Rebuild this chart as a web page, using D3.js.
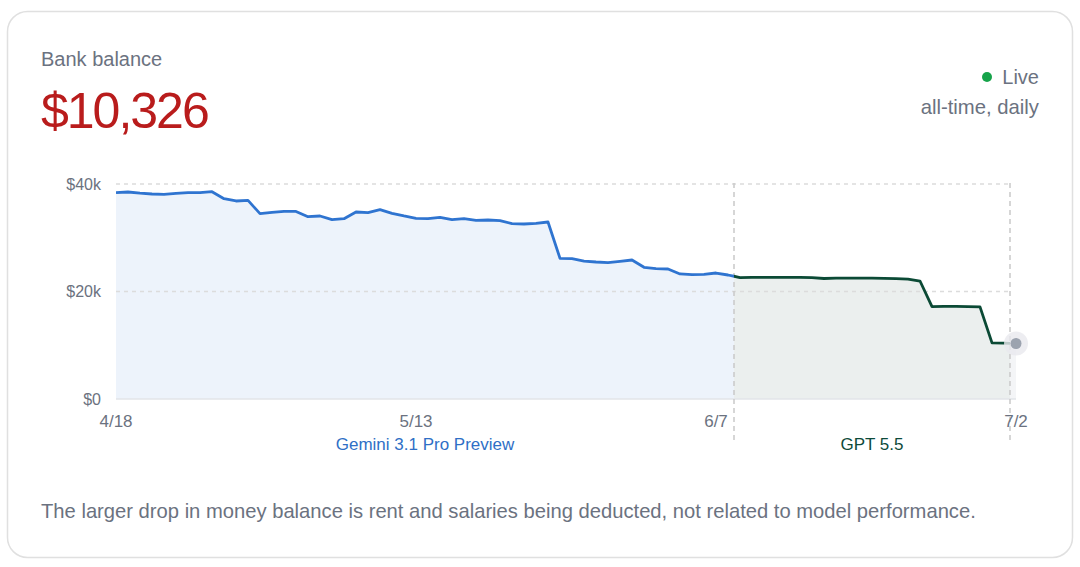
<!DOCTYPE html>
<html>
<head>
<meta charset="utf-8">
<script src="https://cdn.jsdelivr.net/npm/d3@7"></script>
<style>
  html, body { margin: 0; padding: 0; background: #fff; }
  svg { display: block; font-family: "Liberation Sans", Arial, Helvetica, sans-serif; }
</style>
</head>
<body>
<svg id="chart" width="1080" height="567"></svg>
<script>
// ---- data ----
const balance = [
  38380, 38510, 38300, 38140, 38080, 38250, 38380, 38400, 38570, 37270,
  36840, 36960, 34480, 34730, 34920, 34900, 33920, 34050, 33360, 33550,
  34790, 34670, 35230, 34550, 34050, 33610, 33550, 33800, 33360, 33550,
  33240, 33300, 33180, 32620, 32560, 32680, 32930, 26170, 26110, 25670,
  25490, 25360, 25610, 25860, 24500, 24250, 24190, 23260, 23130, 23190,
  23440, 23070, 22600, 22620, 22630, 22620, 22640, 22630, 22600, 22420,
  22500, 22490, 22480, 22470, 22450, 22380, 22320, 21950, 17200, 17220,
  17230, 17200, 17150, 10450, 10380, 10326
];
const tickLabels = ["4/18", "5/13", "6/7", "7/2"];
const tickDays = [0, 25, 50, 75];
const yTicks = [0, 20000, 40000];
const yTickLabels = ["$0", "$20k", "$40k"];
const models = ["Gemini 3.1 Pro Preview", "GPT 5.5"];
const modelStart = [0, 51.5];
const modelEnd = [51.5, 74.5];
const modelLine = ["#2f74d0", "#0b4a35"];
const modelFill = ["#edf3fb", "#ebefee"];
const modelText = ["#2f6fc6", "#0d4a3a"];
const currentBalance = "$10,326";

// ---- layout ----
const svg = d3.select("#chart");
const x = d3.scaleLinear().domain([0, balance.length - 1]).range([116, 1016]);
const y = d3.scaleLinear().domain([0, 40000]).range([399, 184]);
const gray = "#6b7280";

svg.append("rect").attr("x", 7.5).attr("y", 11.5).attr("width", 1065).attr("height", 546)
  .attr("rx", 20).attr("fill", "#fff").attr("stroke", "#e0e0e0").attr("stroke-width", 1.5);

svg.append("text").attr("x", 41).attr("y", 66).attr("font-size", 20).attr("fill", gray).text("Bank balance");
svg.append("text").attr("x", 41).attr("y", 128).attr("font-size", 50).attr("letter-spacing", -2)
  .attr("fill", "#b91c1c").text(currentBalance);

svg.append("text").attr("x", 1039).attr("y", 84).attr("font-size", 20).attr("fill", gray)
  .attr("text-anchor", "end").text("Live");
svg.append("circle").attr("cx", 987).attr("cy", 77).attr("r", 5).attr("fill", "#16a34a");
svg.append("text").attr("x", 1039).attr("y", 114).attr("font-size", 20.3).attr("fill", gray)
  .attr("text-anchor", "end").text("all-time, daily");

// data points
const pts = balance.map((v, i) => ({ i, v }));

// clip paths per model
const defs = svg.append("defs");
models.forEach((m, k) => {
  defs.append("clipPath").attr("id", "clip" + k).append("rect")
    .attr("x", x(modelStart[k])).attr("y", 0)
    .attr("width", x(modelEnd[k]) - x(modelStart[k])).attr("height", 567);
});
defs.append("clipPath").attr("id", "clipTail").append("rect")
  .attr("x", x(modelEnd[1])).attr("y", 0)
  .attr("width", x(balance.length - 1) - x(modelEnd[1])).attr("height", 567);

const area = d3.area().x(d => x(d.i)).y0(y(0)).y1(d => y(d.v));
const line = d3.line().x(d => x(d.i)).y(d => y(d.v));

// fills
models.forEach((m, k) => {
  svg.append("path").datum(pts).attr("d", area).attr("fill", modelFill[k])
    .attr("clip-path", "url(#clip" + k + ")");
});
svg.append("path").datum(pts).attr("d", area).attr("fill", "#f4f5f7").attr("clip-path", "url(#clipTail)");

// gridlines
yTicks.filter(t => t > 0).forEach(t => {
  svg.append("line").attr("x1", x(0)).attr("x2", x(modelEnd[1])).attr("y1", y(t)).attr("y2", y(t))
    .attr("stroke", "#dcdcdc").attr("stroke-width", 1.3).attr("stroke-dasharray", "4,4");
});
svg.append("line").attr("x1", x(0)).attr("x2", x(balance.length - 1)).attr("y1", y(0)).attr("y2", y(0))
  .attr("stroke", "#e2e4e8").attr("stroke-width", 1.5);

// model boundaries
[modelEnd[0], modelEnd[1]].forEach(d => {
  svg.append("line").attr("x1", x(d)).attr("x2", x(d)).attr("y1", 183).attr("y2", 441)
    .attr("stroke", "#c9c9c9").attr("stroke-width", 1.5).attr("stroke-dasharray", "5,4");
});

// lines
models.forEach((m, k) => {
  svg.append("path").datum(pts).attr("d", line).attr("fill", "none")
    .attr("stroke", modelLine[k]).attr("stroke-width", 2.8).attr("stroke-linejoin", "round")
    .attr("clip-path", "url(#clip" + k + ")");
});

// last point
const last = pts[pts.length - 1];
svg.append("circle").attr("cx", x(last.i)).attr("cy", y(last.v)).attr("r", 12).attr("fill", "#e8e9ee").attr("opacity", 0.8);
svg.append("circle").attr("cx", x(last.i)).attr("cy", y(last.v)).attr("r", 5.5).attr("fill", "#9ca3af");

// y labels
yTicks.forEach((t, k) => {
  svg.append("text").attr("x", 101).attr("y", y(t) + 5.5).attr("text-anchor", "end")
    .attr("font-size", 16).attr("fill", gray).text(yTickLabels[k]);
});
// x labels
tickDays.forEach((d, k) => {
  svg.append("text").attr("x", x(d)).attr("y", 427).attr("text-anchor", "middle")
    .attr("font-size", 17).attr("fill", gray).text(tickLabels[k]);
});
// model labels
models.forEach((m, k) => {
  svg.append("text").attr("x", (x(modelStart[k]) + x(modelEnd[k])) / 2).attr("y", 450)
    .attr("text-anchor", "middle").attr("font-size", 17).attr("fill", modelText[k]).text(m);
});

svg.append("text").attr("x", 41).attr("y", 518).attr("font-size", 20.2).attr("fill", gray)
  .text("The larger drop in money balance is rent and salaries being deducted, not related to model performance.");
</script>
</body>
</html>
